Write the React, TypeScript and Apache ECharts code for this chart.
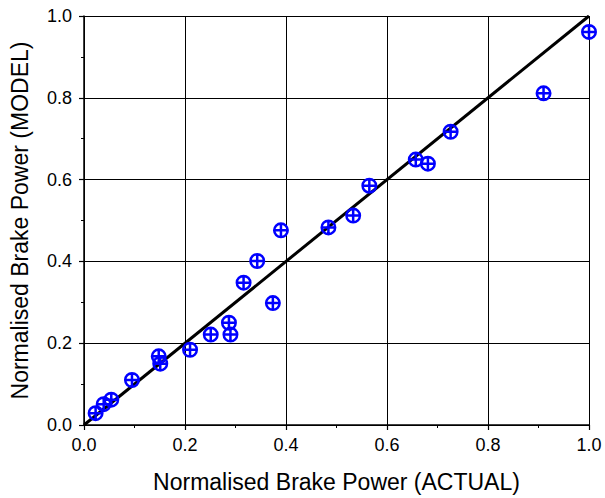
import React, { useEffect, useRef } from "react";
import * as echarts from "echarts";

const actual = [0.023, 0.039, 0.054, 0.095, 0.148, 0.151, 0.21, 0.251, 0.287, 0.29, 0.316, 0.343, 0.374, 0.39, 0.484, 0.533, 0.565, 0.657, 0.681, 0.726, 0.91, 1.0];
const model = [0.029, 0.051, 0.062, 0.11, 0.168, 0.15, 0.184, 0.221, 0.25, 0.221, 0.348, 0.401, 0.298, 0.476, 0.483, 0.512, 0.585, 0.649, 0.639, 0.717, 0.811, 0.961];
const identityLine = [[0, 0], [1, 1]];

export default function App() {
  const ref = useRef<HTMLDivElement>(null);
  useEffect(() => {
    document.body.style.margin = "0";
    const chart = echarts.init(ref.current!, undefined, { renderer: "svg" });
    const font = "Liberation Sans, Arial, sans-serif";
    const axisCommon = {
      type: "value",
      min: 0,
      max: 1,
      interval: 0.2,
      axisLine: { show: true, lineStyle: { color: "#000", width: 1.5 } },
      axisTick: { show: true, length: 5, lineStyle: { color: "#000", width: 1.2 } },
      minorTick: { show: true, splitNumber: 2, length: 3, lineStyle: { color: "#000", width: 1 } },
      splitLine: { show: true, lineStyle: { color: "#000", width: 1 } },
      axisLabel: { color: "#000", fontSize: 18, fontFamily: font, formatter: (v: number) => v.toFixed(1) },
      nameLocation: "middle",
      nameTextStyle: { color: "#000", fontSize: 23, fontFamily: font },
    };
    chart.setOption({
      animation: false,
      backgroundColor: "#fff",
      grid: { left: 84, top: 16, width: 505, height: 410, containLabel: false },
      xAxis: {
        ...axisCommon,
        name: "Normalised Brake Power (ACTUAL)",
        nameGap: 45,
        axisLabel: { ...axisCommon.axisLabel, margin: 11 },
      },
      yAxis: {
        ...axisCommon,
        name: "Normalised Brake Power (MODEL)",
        nameGap: 53,
        axisLabel: { ...axisCommon.axisLabel, margin: 12 },
      },
      series: [
        {
          type: "line",
          data: identityLine,
          symbol: "none",
          lineStyle: { color: "#000", width: 3 },
          z: 2,
        },
        {
          type: "scatter",
          data: actual.map((x, i) => [x, model[i]]),
          symbol: "path://M10,0A10,10,0,1,1,10,20A10,10,0,1,1,10,0ZM0,10L20,10M10,0L10,20",
          symbolSize: 13.5,
          itemStyle: { color: "rgba(0,0,0,0)", borderColor: "#0000ff", borderWidth: 2.5, opacity: 1 },
          z: 3,
        },
      ],
    });
    return () => chart.dispose();
  }, []);
  return <div ref={ref} style={{ width: 605, height: 498 }} />;
}
